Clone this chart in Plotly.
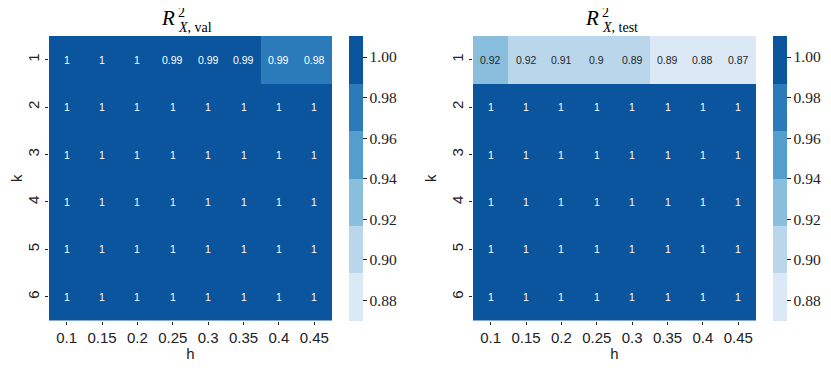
import plotly.graph_objects as go

# data
h_vals = ["0.1", "0.15", "0.2", "0.25", "0.3", "0.35", "0.4", "0.45"]
k_vals = ["1", "2", "3", "4", "5", "6"]

r2_val_k1 = [1.0, 1.0, 1.0, 0.99, 0.989, 0.988, 0.986, 0.981]
r2_test_k1 = [0.921, 0.916, 0.91, 0.90, 0.894, 0.889, 0.881, 0.872]
r2_rest = [1.0] * 8  # k = 2..6 are all 1

r2_val = [r2_val_k1] + [r2_rest for _ in range(5)]
r2_test = [r2_test_k1] + [r2_rest for _ in range(5)]

cbar_ticks = [0.88, 0.90, 0.92, 0.94, 0.96, 0.98, 1.00]
blues6 = ["#dbe9f6", "#bad6eb", "#89bedc", "#539ecd", "#2b7bba", "#0b559f"]
zmin, zmax = 0.870, 1.0105

# page body has an 8px margin, so the figure is drawn 8px in from the corner
W, H = 815, 354
OFF = 8
SANS = "Liberation Sans, Arial"
SERIF = "Liberation Serif, DejaVu Serif"


def discrete_scale(colors):
    n = len(colors)
    scale = []
    for i, c in enumerate(colors):
        scale.append([i / n, c])
        scale.append([(i + 1) / n, c])
    return scale


def lum(hexc):
    r, g, b = (int(hexc[i:i + 2], 16) / 255 for i in (1, 3, 5))
    return 0.299 * r + 0.587 * g + 0.114 * b


def cell_color(v):
    idx = int((v - zmin) / (zmax - zmin) * len(blues6))
    idx = min(max(idx, 0), len(blues6) - 1)
    return blues6[idx]


# screen pixel -> paper coords
def px_x(p):
    return (p - OFF) / W


def px_y(p):
    return 1 - (p - OFF) / H


fig = go.Figure()

panels = [
    (r2_val, "x", "y", "coloraxis", "val", 177),
    (r2_test, "x2", "y2", "coloraxis2", "test", 601),
]

annotations = []
for z, xa, ya, ca, sub, r_edge in panels:
    fig.add_trace(go.Heatmap(
        z=z, x=h_vals, y=k_vals, xaxis=xa, yaxis=ya, coloraxis=ca,
    ))
    # cell labels (category axes are index based)
    for i in range(len(k_vals)):
        for j in range(len(h_vals)):
            v = z[i][j]
            col = "#262626" if lum(cell_color(v)) > 0.6 else "white"
            annotations.append(dict(
                x=j, y=i, xref=xa, yref=ya, text=format(v, ".2g"),
                font=dict(size=10.5, color=col, family=SANS),
            ))
    # title R^2_{X, sub}
    annotations += [
        dict(x=px_x(r_edge), y=px_y(18), xanchor="right", yanchor="middle",
             text="<i>R</i>", font=dict(size=21, family=SERIF, color="black")),
        dict(x=px_x(r_edge - 1), y=px_y(12), xanchor="left", yanchor="middle",
             text="2", font=dict(size=14, family=SERIF, color="black")),
        dict(x=px_x(r_edge - 1), y=px_y(27), xanchor="left", yanchor="middle",
             text="<i>X</i>, " + sub, font=dict(size=14, family=SERIF, color="black")),
    ]

for a in annotations:
    a.setdefault("xref", "paper")
    a.setdefault("yref", "paper")
    a["showarrow"] = False

ydom = [px_y(320.5), px_y(36)]
axis_common = dict(
    showgrid=False, zeroline=False, ticks="outside", ticklen=3.5, tickwidth=1,
    tickcolor="#222", showline=False,
    tickfont=dict(size=15, family=SANS, color="#222"),
    title_font=dict(size=15, family=SANS, color="#222"),
    automargin=False,
)

fig.update_layout(
    width=W, height=H,
    margin=dict(l=0, r=0, t=0, b=0),
    paper_bgcolor="white", plot_bgcolor="white",
    showlegend=False,
    xaxis=dict(domain=[px_x(49), px_x(332)], anchor="y", title_text="h",
               title_standoff=0, **axis_common),
    yaxis=dict(domain=ydom, anchor="x", autorange="reversed", title_text="k",
               tickangle=-90, title_standoff=8, **axis_common),
    xaxis2=dict(domain=[px_x(473), px_x(756)], anchor="y2", title_text="h",
                title_standoff=0, **axis_common),
    yaxis2=dict(domain=ydom, anchor="x2", autorange="reversed", title_text="k",
                tickangle=-90, title_standoff=8, **axis_common),
    annotations=annotations,
)

for name, cbx in [("coloraxis", 349), ("coloraxis2", 773)]:
    fig.update_layout(**{name: dict(
        colorscale=discrete_scale(blues6), cmin=zmin, cmax=zmax,
        colorbar=dict(
            x=px_x(cbx), xanchor="left", xref="paper",
            y=px_y(178.25), yanchor="middle", yref="paper",
            len=284.5, lenmode="pixels", thickness=14, thicknessmode="pixels",
            outlinewidth=0, xpad=0, ypad=0,
            tickvals=cbar_ticks, ticktext=[f"{t:.2f}" for t in cbar_ticks],
            ticks="outside", ticklen=4, tickcolor="#222",
            tickfont=dict(size=15.5, family=SERIF, color="#222"),
        ),
    )})

fig.write_html("out.html")
